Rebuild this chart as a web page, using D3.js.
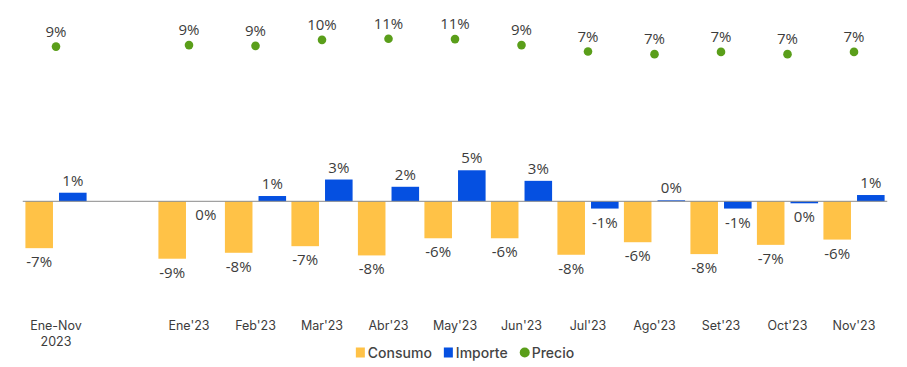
<!DOCTYPE html>
<html><head><meta charset="utf-8">
<script src="https://cdn.jsdelivr.net/npm/d3@7"></script>
<style>
html,body{margin:0;padding:0;background:#fff;}
svg{display:block;}
</style></head>
<body><svg id="c" width="907" height="367"></svg>
<script>
const categories = ["Ene-Nov\n2023", "", "Ene'23", "Feb'23", "Mar'23", "Abr'23", "May'23", "Jun'23", "Jul'23", "Ago'23", "Set'23", "Oct'23", "Nov'23"];
const consumo = [-7.1, null, -8.7, -7.8, -6.8, -8.2, -5.6, -5.6, -8.1, -6.2, -8.0, -6.6, -5.8];
const importe = [1.3, null, 0.0, 0.8, 3.3, 2.2, 4.7, 3.1, -1.1, 0.15, -1.1, -0.3, 0.95];
const precio = [8.6, null, 9.0, 8.8, 10.4, 10.7, 10.6, 9.0, 7.3, 6.6, 7.2, 6.6, 7.2];
const seriesNames = ["Consumo", "Importe", "Precio"];
const colors = {Consumo: "#FFC247", Importe: "#0550E1", Precio: "#5A9E1A"};

const svg = d3.select("#c");
const font = "'Open Sans', sans-serif";
const txt = "#3c3c3c";

const x0 = d3.scaleBand().domain(d3.range(categories.length)).range([22.75, 887.25]).paddingInner(0.08).paddingOuter(0.04);
const x1 = d3.scaleBand().domain(["Consumo", "Importe"]).range([0, x0.bandwidth()]).paddingInner(0.18);
const y = d3.scaleLinear().domain([-10, 6]).range([267.3, 161.7]);
const yP = d3.scaleLinear().domain([6, 11]).range([56.4, 37.6]);

const rows = categories.map((c, i) => ({i, c, Consumo: consumo[i], Importe: importe[i], Precio: precio[i]}));

const fmt = v => Math.round(v) + "%";

// bars
["Consumo", "Importe"].forEach(s => {
  const data = rows.filter(r => r[s] !== null);
  svg.append("g").selectAll("rect").data(data).join("rect")
    .attr("x", r => x0(r.i) + x1(s))
    .attr("width", x1.bandwidth())
    .attr("y", r => y(Math.max(0, r[s])))
    .attr("height", r => Math.abs(y(r[s]) - y(0)))
    .attr("fill", colors[s]);
  svg.append("g").selectAll("text").data(data).join("text")
    .attr("x", r => x0(r.i) + x1(s) + x1.bandwidth() / 2)
    .attr("y", r => r[s] > 0 ? y(r[s]) - 7 : y(Math.min(0, r[s])) + 19)
    .attr("text-anchor", "middle")
    .attr("font-family", font).attr("font-size", 15).attr("fill", txt)
    .text(r => fmt(r[s]));
});

// zero line
svg.append("line").attr("x1", x0.range()[0]).attr("x2", x0.range()[1])
  .attr("y1", y(0)).attr("y2", y(0)).attr("stroke", "#8a8a8a").attr("stroke-width", 1);

// precio dots
const pd = rows.filter(r => r.Precio !== null);
svg.append("g").selectAll("circle").data(pd).join("circle")
  .attr("cx", r => x0(r.i) + x0.bandwidth() / 2)
  .attr("cy", r => yP(r.Precio))
  .attr("r", 4.3).attr("fill", colors.Precio);
svg.append("g").selectAll("text").data(pd).join("text")
  .attr("x", r => x0(r.i) + x0.bandwidth() / 2)
  .attr("y", r => yP(r.Precio) - 10)
  .attr("text-anchor", "middle")
  .attr("font-family", font).attr("font-size", 15).attr("fill", txt)
  .text(r => fmt(r.Precio));

// x axis labels
const xl = svg.append("g").selectAll("text").data(rows).join("text")
  .attr("x", r => x0(r.i) + x0.bandwidth() / 2)
  .attr("y", 330)
  .attr("text-anchor", "middle")
  .attr("font-family", "Inter, sans-serif").attr("font-size", 12.5).attr("fill", txt);
xl.each(function(r) {
  const lines = r.c.split("\n");
  d3.select(this).selectAll("tspan").data(lines).join("tspan")
    .attr("x", x0(r.i) + x0.bandwidth() / 2)
    .attr("dy", (d, k) => k === 0 ? 0 : 16)
    .text(d => d);
});

// legend
const lg = svg.append("g");
let cx = 0;
seriesNames.forEach((s, k) => {
  const g = lg.append("g").attr("transform", `translate(${cx},0)`);
  if (s === "Precio") g.append("circle").attr("cx", 5).attr("cy", 0).attr("r", 5).attr("fill", colors[s]);
  else g.append("rect").attr("x", 0).attr("y", -5).attr("width", 9).attr("height", 10).attr("fill", colors[s]);
  const t = g.append("text").attr("x", 12).attr("y", 5)
    .attr("font-family", "Inter, sans-serif").attr("font-size", 14).attr("font-weight", 500).attr("fill", "#444").text(s);
  cx += 12 + t.node().getComputedTextLength() + 12;
});
const lw = cx - 12;
lg.attr("transform", `translate(${465 - lw / 2},352.5)`);
</script>
</body></html>
